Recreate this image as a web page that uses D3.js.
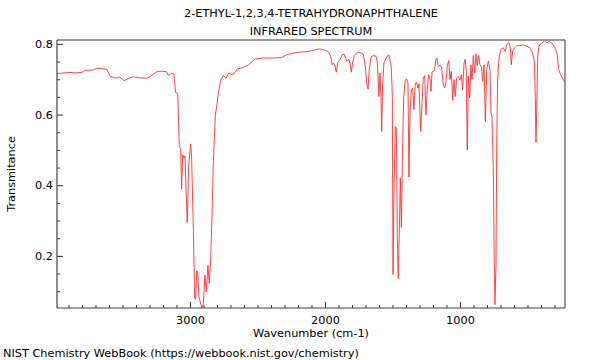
<!DOCTYPE html>
<html>
<head>
<meta charset="utf-8">
<script src="https://cdn.jsdelivr.net/npm/d3@7"></script>
<style>
  html, body { margin: 0; padding: 0; background: #fff; }
  svg { display: block; }
  text { font-family: "DejaVu Sans", sans-serif; fill: #000; }
</style>
</head>
<body>
<svg id="chart" width="600" height="360"></svg>
<script>
const titleLines = ["2-ETHYL-1,2,3,4-TETRAHYDRONAPHTHALENE", "INFRARED SPECTRUM"];
const xLabel = "Wavenumber (cm-1)";
const yLabel = "Transmitance";
const footer = "NIST Chemistry WebBook (https://webbook.nist.gov/chemistry)";

const xDomain = [3985, 222];
const yDomain = [0.0525, 0.811];
const xMajorTicks = [1000, 2000, 3000];
const xMinorTicks = [300,400,500,600,700,800,900,1100,1200,1300,1400,1500,1600,1700,1800,1900,2100,2200,2300,2400,2500,2600,2700,2800,2900,3100,3200,3300,3400,3500,3600,3700,3800,3900];
const yMajorTicks = [0.2, 0.4, 0.6, 0.8];
const yMinorTicks = [0.1, 0.15, 0.25, 0.3, 0.35, 0.45, 0.5, 0.55, 0.65, 0.7, 0.75];

const wavenumber = [3985,3926,3889,3852,3802,3778,3716,3691,3654,3617,3593,3556,3519,3489,3457,3420,3370,3321,3296,3247,3210,3173,3160,3136,3119,3106,3091,3079,3069,3062,3054,3044,3037,3030,3020,3010,2995,2988,2975,2965,2958,2950,2943,2933,2921,2911,2901,2889,2879,2867,2857,2847,2837,2827,2812,2802,2790,2773,2753,2733,2713,2691,2674,2649,2617,2568,2519,2457,2383,2321,2284,2235,2185,2136,2087,2037,2000,1975,1958,1946,1938,1928,1916,1904,1889,1872,1857,1839,1824,1815,1805,1795,1783,1765,1741,1716,1701,1691,1681,1672,1659,1642,1622,1612,1605,1600,1593,1585,1580,1573,1563,1550,1538,1528,1519,1509,1501,1496,1489,1479,1471,1464,1457,1449,1442,1434,1427,1417,1405,1395,1385,1378,1370,1360,1350,1341,1331,1321,1311,1304,1291,1281,1272,1261,1252,1242,1232,1222,1215,1207,1198,1188,1178,1170,1160,1148,1136,1123,1113,1104,1093,1083,1074,1064,1054,1044,1035,1025,1012,1000,990,980,970,961,953,946,938,928,919,911,901,891,881,872,862,852,842,832,822,812,802,790,778,770,763,753,746,741,733,728,721,711,696,679,664,654,637,627,620,610,595,580,556,531,506,481,462,449,442,437,432,424,415,400,383,370,358,338,321,296,279,269,254,239,222];
const transmittance = [.716,.718,.719,.718,.719,.725,.726,.731,.730,.728,.710,.703,.706,.696,.702,.707,.704,.703,.707,.721,.723,.721,.711,.716,.714,.662,.660,.510,.504,.389,.486,.477,.483,.396,.294,.453,.517,.481,.273,.079,.077,.158,.155,.084,.065,.053,.065,.146,.098,.173,.122,.193,.311,.462,.599,.623,.661,.697,.710,.703,.718,.713,.715,.729,.732,.740,.757,.760,.760,.761,.769,.774,.777,.778,.782,.786,.782,.778,.765,.741,.746,.741,.720,.748,.755,.769,.771,.751,.757,.746,.720,.748,.767,.774,.776,.770,.736,.689,.672,.727,.763,.767,.765,.748,.689,.651,.718,.651,.552,.685,.746,.757,.765,.769,.755,.736,.651,.147,.387,.566,.562,.254,.136,.273,.420,.281,.462,.651,.697,.701,.689,.423,.604,.670,.675,.614,.689,.691,.675,.687,.552,.633,.703,.710,.599,.675,.713,.699,.666,.720,.722,.727,.757,.760,.736,.740,.732,.683,.675,.690,.740,.753,.699,.722,.640,.699,.651,.703,.708,.697,.713,.670,.746,.757,.718,.500,.708,.647,.741,.699,.767,.718,.772,.738,.767,.741,.736,.694,.741,.580,.727,.751,.727,.604,.595,.443,.179,.062,.179,.510,.699,.760,.784,.789,.779,.798,.803,.789,.741,.779,.789,.795,.795,.797,.793,.789,.774,.751,.651,.521,.604,.765,.793,.801,.805,.810,.803,.807,.803,.789,.770,.727,.713,.701,.691];

const data = wavenumber.map((w, i) => ({ w, t: transmittance[i] }));

const FS = 11.3;
const svg = d3.select("#chart");
const m = { left: 57, right: 565, top: 40, bottom: 308 };

const x = d3.scaleLinear().domain(xDomain).range([m.left, m.right]);
const y = d3.scaleLinear().domain(yDomain).range([m.bottom, m.top]);

// spectrum
svg.append("path")
  .datum(data)
  .attr("fill", "none")
  .attr("stroke", "#ff3030")
  .attr("stroke-width", 0.9)
  .attr("stroke-linejoin", "round")
  .attr("d", d3.line().x(d => x(d.w)).y(d => y(d.t)));

// x axis major
const gx = svg.append("g").attr("transform", `translate(0,${m.bottom})`)
  .call(d3.axisBottom(x).tickValues(xMajorTicks).tickFormat(d3.format("d")).tickSize(-6).tickPadding(8));
gx.select(".domain").remove();
gx.selectAll("text").attr("font-size", FS).attr("font-family", "DejaVu Sans");
gx.selectAll("line").attr("stroke", "#333");

const gxm = svg.append("g").attr("transform", `translate(0,${m.bottom})`)
  .call(d3.axisBottom(x).tickValues(xMinorTicks).tickFormat("").tickSize(-3));
gxm.select(".domain").remove();
gxm.selectAll("line").attr("stroke", "#333");

// y axis
const gy = svg.append("g").attr("transform", `translate(${m.left},0)`)
  .call(d3.axisLeft(y).tickValues(yMajorTicks).tickFormat(d3.format(".1f")).tickSize(-6).tickPadding(4));
gy.select(".domain").remove();
gy.selectAll("text").attr("font-size", FS).attr("font-family", "DejaVu Sans");
gy.selectAll("line").attr("stroke", "#333");

const gym = svg.append("g").attr("transform", `translate(${m.left},0)`)
  .call(d3.axisLeft(y).tickValues(yMinorTicks).tickFormat("").tickSize(-3));
gym.select(".domain").remove();
gym.selectAll("line").attr("stroke", "#333");

// frame
svg.append("line").attr("x1", m.left).attr("x2", m.right).attr("y1", m.top).attr("y2", m.top)
  .attr("stroke", "#999").attr("stroke-width", 2);
svg.append("line").attr("x1", m.right).attr("x2", m.right).attr("y1", m.top).attr("y2", m.bottom)
  .attr("stroke", "#555").attr("stroke-width", 1.2);
svg.append("line").attr("x1", m.left).attr("x2", m.left).attr("y1", m.top).attr("y2", m.bottom)
  .attr("stroke", "#444").attr("stroke-width", 1.2);
svg.append("line").attr("x1", m.left).attr("x2", m.right).attr("y1", m.bottom).attr("y2", m.bottom)
  .attr("stroke", "#444").attr("stroke-width", 1.2);

// titles
const cx = (m.left + m.right) / 2;
svg.append("text").attr("x", cx).attr("y", 17).attr("text-anchor", "middle").attr("font-size", FS).text(titleLines[0]);
svg.append("text").attr("x", cx).attr("y", 34.5).attr("text-anchor", "middle").attr("font-size", FS).text(titleLines[1]);
svg.append("text").attr("x", cx).attr("y", 337).attr("text-anchor", "middle").attr("font-size", FS).text(xLabel);
svg.append("text").attr("transform", `translate(15,${(m.top + m.bottom) / 2}) rotate(-90)`)
  .attr("text-anchor", "middle").attr("font-size", FS).text(yLabel);
svg.append("text").attr("x", 3).attr("y", 357).attr("font-size", FS).text(footer);
</script>
</body>
</html>
